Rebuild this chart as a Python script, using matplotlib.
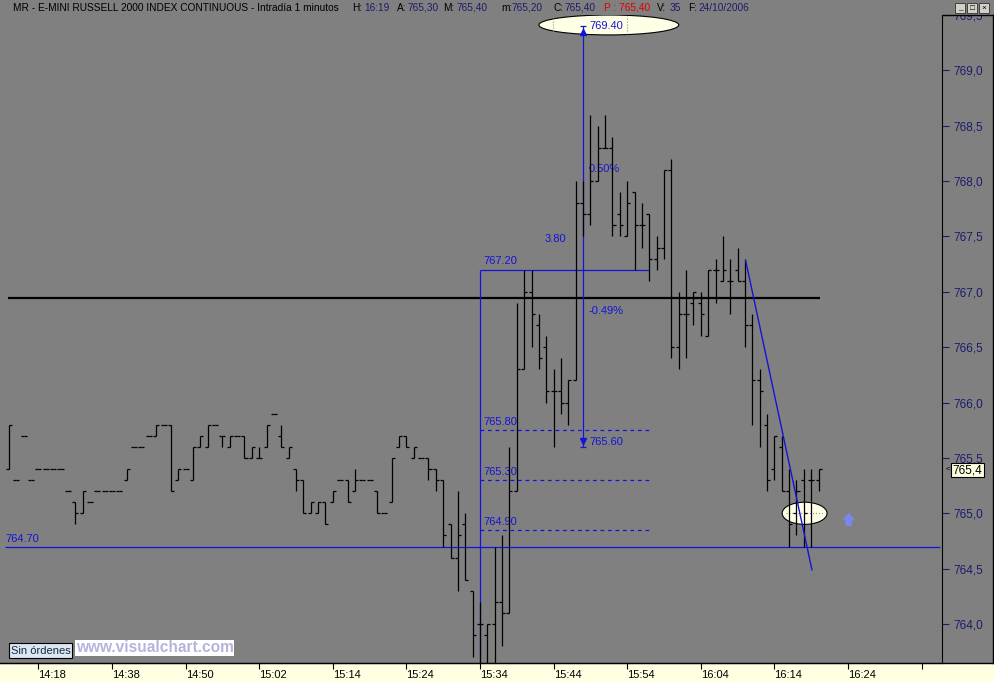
import numpy as np
import matplotlib.pyplot as plt
from matplotlib.patches import Ellipse, Rectangle
from matplotlib.lines import Line2D
from matplotlib.transforms import blended_transform_factory

plt.rcParams['font.family'] = ['Liberation Sans', 'DejaVu Sans']

# E-mini Russell 2000, 1 minute bars, 24/10/2006 (bar index on the x axis)
opens = [765.4, 765.3, 765.7, 765.3, 765.4, 765.4, 765.4, 765.4, 765.2, 765.1,
         765.0, 765.1, 765.2, 765.2, 765.2, 765.2, 765.3, 765.6, 765.6, 765.7,
         765.7, 765.8, 765.8, 765.3, 765.4, 765.3, 765.6, 765.6, 765.8, 765.7,
         765.6, 765.7, 765.7, 765.5, 765.5, 765.6, 765.9, 765.7, 765.5, 765.4,
         765.3, 765.0, 765.0, 765.1, 765.1, 765.3, 765.3, 765.2, 765.3, 765.3,
         765.2, 765.0, 765.1, 765.6, 765.7, 765.5, 765.5, 765.5, 765.4, 765.3,
         764.9, 764.6, 764.9, 764.3, 764.0, 763.9, 764.0, 764.2, 764.1, 765.2,
         766.3, 767.0, 766.7, 766.5, 766.1, 766.1, 766.0, 766.2, 767.8, 767.7,
         768.0, 768.3, 768.3, 767.7, 767.5, 767.9, 767.6, 767.7, 767.3, 767.4,
         768.1, 766.5, 766.8, 766.9, 766.9, 766.6, 767.2, 767.1, 767.1, 767.2,
         767.1, 766.7, 766.2, 765.8, 765.4, 765.6, 765.2, 765.0, 765.3, 765.3,
         765.3]
highs = [765.8, 765.3, 765.7, 765.3, 765.4, 765.4, 765.4, 765.4, 765.2, 765.1,
         765.2, 765.1, 765.2, 765.2, 765.2, 765.2, 765.4, 765.6, 765.6, 765.7,
         765.8, 765.8, 765.8, 765.4, 765.4, 765.6, 765.7, 765.8, 765.8, 765.7,
         765.7, 765.7, 765.7, 765.6, 765.6, 765.8, 765.9, 765.8, 765.6, 765.4,
         765.3, 765.1, 765.1, 765.1, 765.2, 765.3, 765.3, 765.4, 765.3, 765.3,
         765.2, 765.0, 765.5, 765.7, 765.7, 765.6, 765.5, 765.5, 765.4, 765.3,
         764.9, 765.2, 765.0, 764.3, 764.2, 764.0, 764.7, 764.8, 765.6, 766.9,
         767.2, 767.2, 766.8, 766.6, 766.3, 766.4, 766.2, 768.0, 768.0, 768.6,
         768.5, 768.6, 768.4, 767.9, 768.0, 767.9, 767.8, 767.7, 767.5, 768.1,
         768.2, 767.0, 767.2, 767.0, 767.0, 767.2, 767.3, 767.5, 767.3, 767.4,
         767.3, 766.8, 766.3, 765.9, 765.7, 765.7, 765.4, 765.3, 765.4, 765.4,
         765.4]
lows = [765.4, 765.3, 765.7, 765.3, 765.4, 765.4, 765.4, 765.4, 765.2, 764.9,
        765.0, 765.1, 765.2, 765.2, 765.2, 765.2, 765.3, 765.6, 765.6, 765.7,
        765.7, 765.8, 765.2, 765.3, 765.4, 765.3, 765.6, 765.6, 765.8, 765.6,
        765.6, 765.7, 765.5, 765.5, 765.5, 765.6, 765.9, 765.6, 765.5, 765.2,
        765.0, 765.0, 765.0, 764.9, 765.1, 765.3, 765.1, 765.2, 765.3, 765.3,
        765.0, 765.0, 765.1, 765.6, 765.6, 765.5, 765.5, 765.3, 765.2, 764.7,
        764.6, 764.3, 764.4, 763.7, 763.6, 763.6, 763.6, 763.8, 764.1, 765.2,
        766.3, 766.5, 766.3, 766.0, 765.6, 765.9, 765.8, 766.2, 767.5, 767.6,
        768.0, 768.3, 767.5, 767.5, 767.5, 767.2, 767.4, 767.1, 767.2, 767.3,
        766.4, 766.3, 766.4, 766.7, 766.6, 766.6, 766.9, 767.1, 766.8, 767.1,
        766.5, 765.8, 765.6, 765.2, 765.3, 765.2, 764.7, 764.8, 764.7, 764.7,
        765.2]
closes = [765.8, 765.3, 765.7, 765.3, 765.4, 765.4, 765.4, 765.4, 765.2, 765.0,
          765.2, 765.1, 765.2, 765.2, 765.2, 765.2, 765.4, 765.6, 765.6, 765.7,
          765.8, 765.8, 765.2, 765.4, 765.4, 765.6, 765.7, 765.8, 765.8, 765.7,
          765.7, 765.7, 765.5, 765.6, 765.5, 765.8, 765.9, 765.6, 765.6, 765.3,
          765.0, 765.1, 765.1, 764.9, 765.2, 765.3, 765.1, 765.3, 765.3, 765.3,
          765.0, 765.0, 765.5, 765.7, 765.6, 765.6, 765.5, 765.4, 765.3, 764.8,
          764.6, 764.8, 764.4, 763.9, 764.0, 764.0, 764.2, 764.1, 765.2, 766.3,
          767.0, 766.8, 766.4, 766.1, 766.1, 766.0, 766.2, 767.8, 767.7, 768.0,
          768.3, 768.3, 767.6, 767.6, 767.8, 767.6, 767.6, 767.3, 767.4, 768.1,
          766.5, 766.8, 766.8, 767.0, 766.8, 767.2, 767.2, 767.2, 767.1, 767.1,
          766.7, 766.2, 766.1, 765.3, 765.7, 765.2, 764.9, 765.2, 765.0, 765.3,
          765.4]

time_ticks = [4, 14, 24, 34, 44, 54, 64, 74, 84, 94, 104, 114, 124]
time_labels = ['14:18', '14:38', '14:50', '15:02', '15:14', '15:24', '15:34',
               '15:44', '15:54', '16:04', '16:14', '16:24', '']
price_ticks = [764.0, 764.5, 765.0, 765.5, 766.0, 766.5, 767.0, 767.5,
               768.0, 768.5, 769.0, 769.5]

# drawn studies
support = 764.70
resistance = 766.94
box_top = 767.20
box_levels = [765.75, 765.30, 764.85]
box_labels = ['765.80', '765.30', '764.90']
measure_low, measure_high = 765.60, 769.40
trend_x = [100.1, 109.1]
trend_y = [767.28, 764.49]

GRAY = '#808080'
BLUE = '#1414d8'
NAVY = '#1c1c6c'
W, H = 994, 682

fig = plt.figure(figsize=(W / 100, H / 100), dpi=100)
fig.patch.set_facecolor(GRAY)
ax = fig.add_axes([0, 19 / H, 942 / W, 648 / H])
ax.set_facecolor(GRAY)
ax.set_xlim(-1.22, 126.77)
ax.set_ylim(763.648, 769.496)

# OHLC bars
x = np.arange(len(opens))
ax.vlines(x, lows, highs, color='black', lw=0.9, zorder=4)
ax.hlines(opens, x - 0.41, x, color='black', lw=0.9, zorder=4)
ax.hlines(closes, x, x + 0.41, color='black', lw=0.9, zorder=4)

# horizontal lines
ax.hlines(resistance, -0.14, 110.2, color='black', lw=1.6, zorder=3)
ax.hlines(support, -0.56, 126.5, color=BLUE, lw=0.9, zorder=3)
ax.text(-0.55, support + 0.025, '764.70', color=BLUE, fontsize=8, va='bottom')

# box / retracement tool
ax.vlines(64, 763.6, box_top, color=BLUE, lw=0.9, zorder=3)
ax.hlines(box_top, 64, 87.0, color=BLUE, lw=0.9, zorder=3)
ax.text(64.5, box_top + 0.035, '767.20', color=BLUE, fontsize=8, va='bottom')
ax.hlines(box_levels, 64, 87.1, color=BLUE, lw=0.9, linestyles=(0, (3, 3)), zorder=3)
for lv, lb in zip(box_levels, box_labels):
    ax.text(64.5, lv + 0.03, lb, color=BLUE, fontsize=8, va='bottom')

# measure tool
ax.add_patch(Ellipse((81.5, 769.41), 19.0, 0.18, fc='#ffffe6', ec='black', lw=0.8, zorder=2))
ax.vlines([73.9, 84.0], 769.33, 769.49, color='#909090', lw=0.8, linestyles=':', zorder=2)
ax.vlines(78, measure_low, measure_high, color=BLUE, lw=0.9, zorder=3)
ax.hlines([measure_low, measure_high], 77.6, 78.4, color=BLUE, lw=0.9, zorder=3)
ax.plot(78, measure_high - 0.05, marker='^', ms=4, color=BLUE, zorder=3)
ax.plot(78, measure_low + 0.05, marker='v', ms=4, color=BLUE, zorder=3)
ax.text(78.9, measure_high, '769.40', color=BLUE, fontsize=8, va='center', zorder=6)
ax.text(78.9, measure_low + 0.04, '765.60', color=BLUE, fontsize=8, va='center')
ax.text(72.8, 767.475, '3.80', color=BLUE, fontsize=8, va='center')
ax.text(78.7, 768.11, '0.50%', color=BLUE, fontsize=8, va='center')
ax.text(78.7, 766.83, '-0.49%', color=BLUE, fontsize=8, va='center')

# trend line and marks at the end
ax.plot(trend_x, trend_y, color=BLUE, lw=1.0, zorder=5)
ax.add_patch(Ellipse((108.1, 765.0), 6.1, 0.2, fc='#ffffe6', ec='black', lw=0.8, zorder=2))
ax.hlines(765.0, 105.6, 110.6, color='#909090', lw=0.8, linestyles=':', zorder=2)
ax.annotate('', xy=(114.1, 765.03), xytext=(114.1, 764.86),
            arrowprops=dict(arrowstyle='simple,head_length=0.5,head_width=0.9,tail_width=0.45',
                            fc='#7888ee', ec='none'))

# axes
for s in ['top', 'left']:
    ax.spines[s].set_visible(False)
ax.spines['right'].set_color('black')
ax.spines['bottom'].set_color('black')
ax.yaxis.tick_right()
ax.set_yticks(price_ticks)
ax.set_yticklabels([f'{p:.1f}'.replace('.', ',') for p in price_ticks])
ax.tick_params(axis='y', length=5, width=0.8, pad=3, colors=NAVY, labelsize=8.5)
ax.set_xticks(time_ticks)
ax.set_xticklabels(time_labels)
ax.tick_params(axis='x', length=4.5, width=0.8, pad=0.8, colors='black', labelsize=8)
for lb in ax.get_xticklabels():
    lb.set_ha('left')

# last price box (sits over the lower part of the 765,5 label, as on screen)
tr = blended_transform_factory(ax.transAxes, ax.transData)
ax.text(1.0112, closes[-1] - 0.01, '765,4', transform=tr, fontsize=8.5, va='center', ha='left',
        color='black', zorder=10, bbox=dict(fc='#ffffe1', ec='black', lw=0.8, pad=0.9))
ax.text(1.0035, closes[-1], '<', transform=tr, fontsize=6, va='center', ha='left', color='black')

# frame pieces
fig.add_artist(Rectangle((0, 0), 1, 19 / H, transform=fig.transFigure, fc='#ffffe1', ec='none', zorder=-1))
fig.add_artist(Line2D([0, 1], [19 / H, 19 / H], transform=fig.transFigure, color='black', lw=1, zorder=3))
fig.add_artist(Rectangle((0, 1 - 15 / H), 1, 15 / H, transform=fig.transFigure, fc=GRAY, ec='none', zorder=2))
fig.add_artist(Line2D([943 / W, 1], [1 - 15 / H, 1 - 15 / H], transform=fig.transFigure, color='black', lw=1, zorder=3))
fig.add_artist(Line2D([993 / W, 993 / W], [19 / H, 1 - 15 / H], transform=fig.transFigure, color='black', lw=1, zorder=3))

# header
header = [(13, 'MR - E-MINI RUSSELL 2000 INDEX CONTINUOUS - Intradía 1 minutos', 'black'),
          (352, 'H:', 'black'), (364, '16:19', NAVY), (397, 'A:', 'black'), (408, '765,30', NAVY),
          (443, 'M:', 'black'), (457, '765,40', NAVY), (501, 'm:', 'black'), (512, '765,20', NAVY),
          (553, 'C:', 'black'), (565, '765,40', NAVY), (604, 'P : 765,40', '#e00000'),
          (657, 'V:', 'black'), (670, '35', NAVY), (688, 'F:', 'black'), (698, '24/10/2006', NAVY)]
for hx, ht, hc in header:
    fig.text(hx / W, 1 - 8 / H, ht, color=hc, fontsize=7.3, va='center', ha='left', zorder=4)
for bx, glyph in [(955, '_'), (967, '□'), (979, '×')]:
    fig.add_artist(Rectangle((bx / W, 1 - 13 / H), 10 / W, 10 / H, transform=fig.transFigure,
                             fc='#d4d0c8', ec='#303030', lw=0.6, zorder=4))
    fig.text((bx + 5) / W, 1 - 8 / H, glyph, fontsize=6, ha='center', va='center', color='black', zorder=5)

# footer boxes
fig.add_artist(Rectangle((9 / W, 1 - 658 / H), 63 / W, 15 / H, transform=fig.transFigure,
                         fc='#dce6f4', ec='black', lw=0.8, zorder=4))
fig.text(40.5 / W, 1 - 650.5 / H, 'Sin órdenes', fontsize=8, ha='center', va='center', color='#1a2a3a', zorder=5)
fig.text(76 / W, 1 - 648 / H, 'www.visualchart.com', fontsize=11.2, fontweight='bold', ha='left', va='center',
         color='#b4b4dc', zorder=5, bbox=dict(fc='white', ec='none', pad=0.5))

fig.savefig('out.png', dpi=100, facecolor=fig.get_facecolor())
